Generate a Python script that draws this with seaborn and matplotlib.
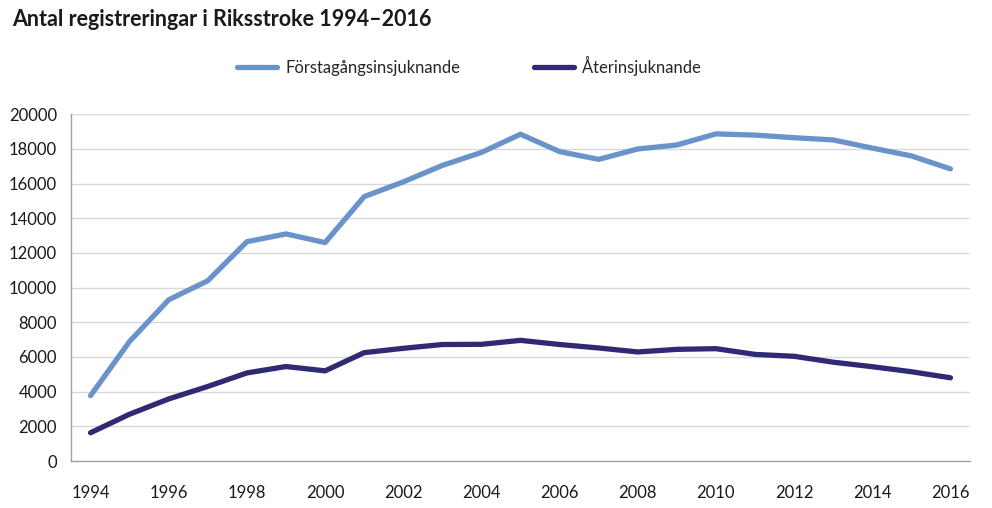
import numpy as np
import pandas as pd
import matplotlib
matplotlib.use("Agg")
import matplotlib.pyplot as plt
import seaborn as sns
from matplotlib.lines import Line2D

years = list(range(1994, 2017))
forsta = [3770, 6900, 9300, 10400, 12650, 13100, 12600, 15250, 16100, 17050, 17800,
          18850, 17850, 17400, 18000, 18230, 18870, 18800, 18650, 18520, 18050, 17600, 16850]
ater = [1630, 2700, 3580, 4300, 5080, 5450, 5200, 6250, 6500, 6720, 6730,
        6960, 6720, 6520, 6290, 6440, 6480, 6150, 6040, 5700, 5440, 5150, 4800]
series_names = ["Förstagångsinsjuknande", "Återinsjuknande"]
colors = ["#6A93CB", "#302A75"]
title = "Antal registreringar i Riksstroke 1994\u20132016"

sns.set_theme(style="white")
plt.rcParams['font.family'] = ['Lato', 'DejaVu Sans']

df = pd.DataFrame({
    "pos": list(range(len(years))) * 2,
    "value": forsta + ater,
    "serie": [series_names[0]] * len(years) + [series_names[1]] * len(years),
})

fig = plt.figure(figsize=(9.92, 5.08), dpi=100)
ax = fig.add_axes([71/992, (508-461)/508, (970-71)/992, (461-114.3)/508])

sns.lineplot(data=df, x="pos", y="value", hue="serie", palette=colors,
             linewidth=3.8, ax=ax, legend=False, solid_capstyle="round")

ax.set_xlim(-0.5, len(years) - 0.5)
ax.set_ylim(0, 20000)
ax.set_yticks(np.arange(0, 20001, 2000))
ax.set_yticklabels([str(v) for v in range(0, 20001, 2000)], fontsize=12, color="#1a1a1a")
ax.set_xticks(list(range(0, len(years), 2)))
ax.set_xticklabels([str(y) for y in years[::2]], fontsize=12, color="#1a1a1a")
ax.set_xticks(np.arange(-0.5, len(years), 1.0), minor=True)
ax.tick_params(axis="x", which="major", length=0, pad=17)
ax.tick_params(axis="x", which="minor", length=6, width=1, color="#A0A0A0", direction="out")
ax.tick_params(axis="y", which="major", length=6, width=1, color="#A0A0A0", direction="out", pad=4)
ax.set_xlabel("")
ax.set_ylabel("")
ax.grid(axis="y", color="#D9D9D9", linewidth=1)
ax.set_axisbelow(True)
for s in ["top", "right"]:
    ax.spines[s].set_visible(False)
for s in ["left", "bottom"]:
    ax.spines[s].set_color("#A0A0A0")
    ax.spines[s].set_linewidth(1)

fig.text(12/992, 1 - 20/508, title, fontsize=15.5, fontweight="bold", color="#1a1a1a",
         ha="left", va="center")

handles = [Line2D([0], [0], color=c, linewidth=3.8, solid_capstyle="round") for c in colors]
fig.legend(handles, series_names, loc="center", bbox_to_anchor=(469/992, 1 - 66/508),
           ncol=2, frameon=False, fontsize=12, handlelength=2.4, columnspacing=4.4,
           handletextpad=0.5)

fig.savefig("out.png", dpi=100)
